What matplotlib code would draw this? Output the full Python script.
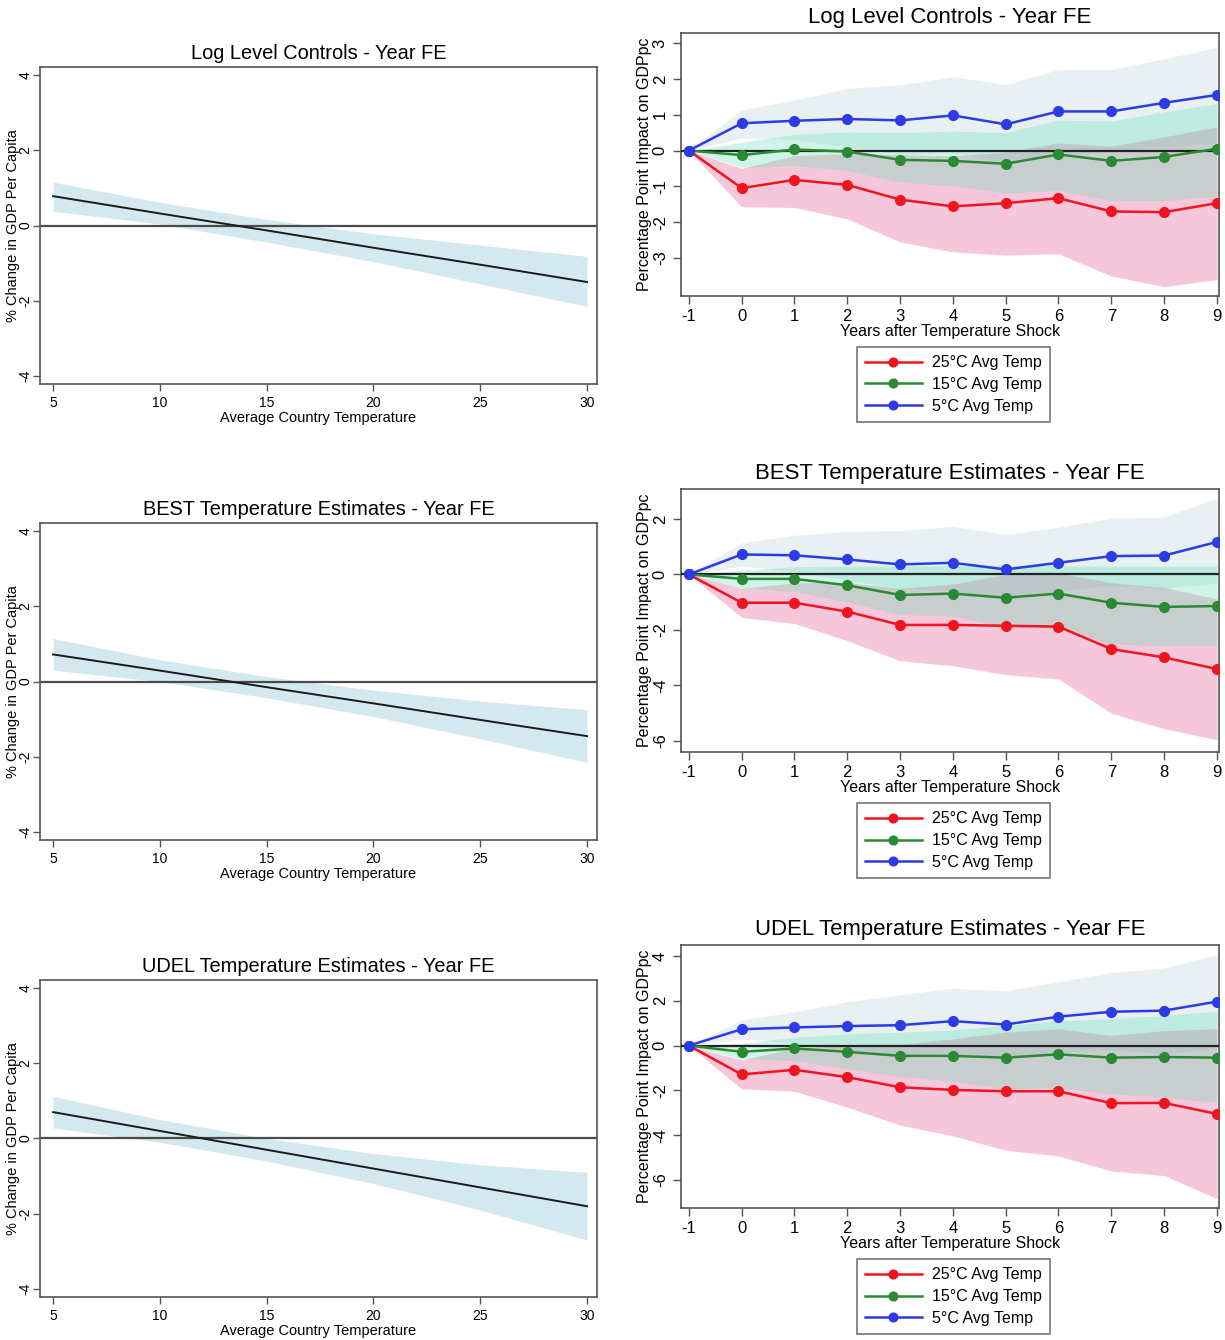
import matplotlib
matplotlib.use("Agg")
import matplotlib.pyplot as plt
import numpy as np

plt.rcParams["font.family"] = ["Liberation Sans", "DejaVu Sans"]
plt.rcParams["axes.unicode_minus"] = False

# Left column: marginal effect of a 1C rise by average country temperature
temp_grid = [5, 10, 15, 20, 25, 30]
left_titles = [
    "Log Level Controls - Year FE",
    "BEST Temperature Estimates - Year FE",
    "UDEL Temperature Estimates - Year FE",
]
left_fit = [
    [0.78, 0.32, -0.13, -0.59, -1.04, -1.50],
    [0.72, 0.29, -0.15, -0.58, -1.02, -1.45],
    [0.70, 0.20, -0.30, -0.80, -1.30, -1.80],
]
left_hi = [
    [1.15, 0.62, 0.16, -0.22, -0.52, -0.82],
    [1.14, 0.58, 0.13, -0.23, -0.52, -0.75],
    [1.12, 0.50, 0.00, -0.40, -0.70, -0.90],
]
left_lo = [
    [0.38, 0.04, -0.44, -0.96, -1.55, -2.15],
    [0.30, 0.00, -0.43, -0.93, -1.52, -2.15],
    [0.28, -0.10, -0.60, -1.20, -1.90, -2.70],
]

# Right column: cumulative impulse responses by baseline temperature
years = [-1, 0, 1, 2, 3, 4, 5, 6, 7, 8, 9]
right_titles = left_titles
series_labels = ["25°C Avg Temp", "15°C Avg Temp", "5°C Avg Temp"]

red_est = [
    [0, -1.05, -0.82, -0.96, -1.37, -1.56, -1.47, -1.33, -1.70, -1.72, -1.47],
    [0, -1.02, -1.02, -1.34, -1.82, -1.82, -1.85, -1.88, -2.69, -2.99, -3.41],
    [0, -1.29, -1.08, -1.41, -1.86, -1.98, -2.04, -2.04, -2.57, -2.56, -3.05],
]
red_hi = [
    [0, -0.50, -0.14, -0.09, -0.12, -0.15, -0.05, 0.21, 0.12, 0.38, 0.66],
    [0, -0.50, -0.30, -0.30, -0.50, -0.35, 0.00, 0.05, -0.30, -0.47, -0.88],
    [0, -0.65, -0.10, 0.00, 0.05, 0.30, 0.60, 0.75, 0.45, 0.67, 0.75],
]
red_lo = [
    [0, -1.57, -1.59, -1.91, -2.55, -2.83, -2.92, -2.88, -3.50, -3.80, -3.60],
    [0, -1.55, -1.77, -2.39, -3.11, -3.29, -3.61, -3.77, -5.00, -5.56, -5.96],
    [0, -1.93, -2.04, -2.75, -3.55, -4.03, -4.67, -4.93, -5.60, -5.80, -6.83],
]

green_est = [
    [0, -0.13, 0.03, -0.03, -0.26, -0.29, -0.37, -0.11, -0.29, -0.18, 0.05],
    [0, -0.16, -0.16, -0.39, -0.74, -0.69, -0.84, -0.69, -1.02, -1.17, -1.14],
    [0, -0.28, -0.13, -0.28, -0.46, -0.46, -0.54, -0.39, -0.54, -0.51, -0.54],
]
green_hi = [
    [0, 0.23, 0.45, 0.52, 0.50, 0.54, 0.50, 0.85, 0.82, 1.08, 1.31],
    [0, 0.15, 0.28, 0.30, 0.30, 0.32, 0.32, 0.32, 0.30, 0.30, 0.30],
    [0, 0.10, 0.37, 0.52, 0.60, 0.70, 0.90, 1.10, 1.20, 1.34, 1.53],
]
green_lo = [
    [0, -0.47, -0.42, -0.56, -0.89, -0.98, -1.19, -1.12, -1.40, -1.40, -1.28],
    [0, -0.50, -0.62, -1.00, -1.45, -1.50, -1.90, -1.95, -2.50, -2.58, -2.58],
    [0, -0.60, -0.67, -1.04, -1.38, -1.60, -1.93, -1.86, -2.16, -2.30, -2.55],
]

blue_est = [
    [0, 0.76, 0.83, 0.88, 0.84, 0.98, 0.73, 1.09, 1.09, 1.33, 1.55],
    [0, 0.72, 0.69, 0.54, 0.36, 0.42, 0.18, 0.42, 0.66, 0.68, 1.17],
    [0, 0.73, 0.81, 0.87, 0.91, 1.09, 0.94, 1.29, 1.51, 1.56, 1.96],
]
blue_hi = [
    [0, 1.13, 1.41, 1.73, 1.83, 2.06, 1.84, 2.26, 2.26, 2.56, 2.88],
    [0, 1.14, 1.41, 1.55, 1.58, 1.73, 1.44, 1.70, 2.03, 2.07, 2.75],
    [0, 1.14, 1.51, 1.96, 2.26, 2.56, 2.44, 2.86, 3.26, 3.46, 4.06],
]
blue_lo = [
    [0, 0.35, 0.30, 0.10, -0.10, -0.05, -0.35, -0.05, -0.05, 0.10, 0.20],
    [0, 0.30, 0.10, -0.20, -0.50, -0.60, -0.90, -0.60, -0.40, -0.50, -0.30],
    [0, 0.30, 0.10, -0.20, -0.40, -0.35, -0.55, -0.30, -0.20, -0.35, -0.15],
]

right_yticks = [
    [-3, -2, -1, 0, 1, 2, 3],
    [-6, -4, -2, 0, 2],
    [-6, -4, -2, 0, 2, 4],
]
right_ylims = [(-4.06, 3.28), (-6.4, 3.08), (-7.25, 4.49)]

spine_color = "#555555"

fig = plt.figure(figsize=(12.25, 13.4), dpi=100)

left_bottoms = [0.7134, 0.3731, 0.0321]
right_bottoms = [0.7791, 0.4388, 0.0985]

for i in range(3):
    # ---- left: linear interaction effect ----
    ax = fig.add_axes([0.0327, left_bottoms[i], 0.4547, 0.2366])
    ax.fill_between(temp_grid, left_lo[i], left_hi[i], color="#d3e8ef", lw=0, zorder=1)
    ax.axhline(0, color="#4a4a4a", lw=1.6, zorder=2)
    ax.plot(temp_grid, left_fit[i], color="#1a1a1a", lw=1.4, zorder=3)
    ax.set_xlim(4.39, 30.47)
    ax.set_ylim(-4.21, 4.21)
    ax.set_xticks([5, 10, 15, 20, 25, 30])
    ax.set_yticks([-4, -2, 0, 2, 4])
    ax.tick_params(axis="both", direction="out", length=5, width=1, color=spine_color,
                   labelsize=10)
    ax.tick_params(axis="y", pad=0.5)
    for lab in ax.get_yticklabels():
        lab.set_rotation(90)
        lab.set_va("center")
    ax.set_xlabel("Average Country Temperature", fontsize=10.5, labelpad=1)
    ax.set_ylabel("% Change in GDP Per Capita", fontsize=10.5)
    ax.yaxis.set_label_coords(-0.036, 0.5)
    ax.set_title(left_titles[i], fontsize=14.4, pad=6)
    for s in ax.spines.values():
        s.set_color(spine_color)
        s.set_linewidth(1.2)

    # ---- right: impulse responses ----
    ax = fig.add_axes([0.5559, right_bottoms[i], 0.4392, 0.1963])
    ax.fill_between(years, blue_lo[i], blue_hi[i], color="#e8f0f4", lw=0, zorder=1)
    ax.fill_between(years, red_lo[i], red_hi[i], color="#e4488a", alpha=0.3, lw=0, zorder=2)
    ax.fill_between(years, green_lo[i], green_hi[i], color="#5fe0b0", alpha=0.3, lw=0,
                    zorder=3)
    ax.axhline(0, color="#222222", lw=1.6, zorder=4)
    ax.plot(years, red_est[i], color="#f0141e", lw=1.8, marker="o", ms=7, zorder=5,
            label=series_labels[0])
    ax.plot(years, green_est[i], color="#2a8a34", lw=1.8, marker="o", ms=7, zorder=5,
            label=series_labels[1])
    ax.plot(years, blue_est[i], color="#2b3be6", lw=1.8, marker="o", ms=7, zorder=5,
            label=series_labels[2])
    ax.set_xlim(-1.15, 9.04)
    ax.set_ylim(*right_ylims[i])
    ax.set_xticks(years)
    ax.set_yticks(right_yticks[i])
    ax.tick_params(axis="both", direction="out", length=6, width=1, color=spine_color,
                   labelsize=12)
    for lab in ax.get_yticklabels():
        lab.set_rotation(90)
        lab.set_va("center")
    ax.set_xlabel("Years after Temperature Shock", fontsize=11.5, labelpad=0)
    ax.set_ylabel("Percentage Point Impact on GDPpc", fontsize=11.5)
    ax.yaxis.set_label_coords(-0.054, 0.5)
    ax.set_title(right_titles[i], fontsize=15.9, pad=7)
    for s in ax.spines.values():
        s.set_color(spine_color)
        s.set_linewidth(1.2)
    leg = ax.legend(loc="upper center", bbox_to_anchor=(0.506, -0.165), fontsize=11.5,
                    frameon=True, fancybox=False, handlelength=3.6, handletextpad=0.6,
                    labelspacing=0.42, borderpad=0.5, markerscale=0.9)
    leg.get_frame().set_edgecolor(spine_color)
    leg.get_frame().set_linewidth(1.2)

fig.savefig("out.png", dpi=100)
